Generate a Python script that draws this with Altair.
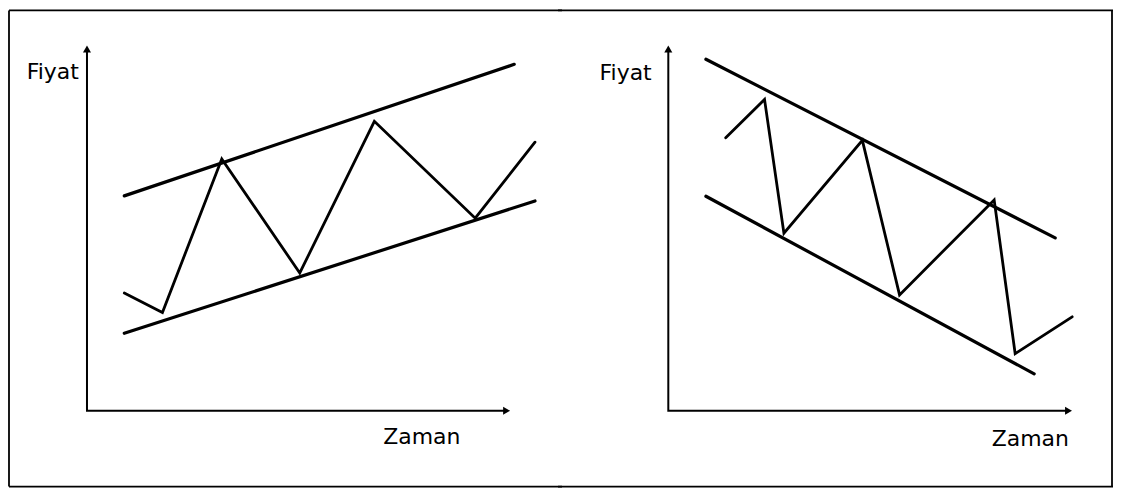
import altair as alt
import pandas as pd

# ---------------- data (time t, price p; axis origin = 0,0; axis length = 100) ----------------
# Left panel: rising channel
left_upper_t = [8.8, 100.8]
left_upper_p = [58.8, 94.8]
left_lower_t = [8.8, 105.7]
left_lower_p = [21.2, 57.4]
left_zig_t = [8.8, 17.8, 31.8, 50.2, 67.8, 91.6, 105.7]
left_zig_p = [32.2, 26.9, 68.9, 37.7, 79.2, 52.7, 73.5]

# Right panel: falling channel
right_upper_t = [9.3, 95.7]
right_upper_p = [96.2, 47.3]
right_lower_t = [9.3, 90.5]
right_lower_p = [58.7, 10.1]
right_zig_t = [14.2, 23.8, 28.6, 48.0, 57.2, 80.6, 85.8, 99.9]
right_zig_p = [74.7, 85.2, 48.6, 74.0, 31.7, 57.7, 15.6, 25.7]

# Axes (path: top of price axis -> origin -> end of time axis)
axis_t = [0, 0, 99]
axis_p = [99, 0, 0]

y_label = "Fiyat"
x_label = "Zaman"

# label anchor points (data units)
left_label_t = [-1.9, 88.1]
left_label_p = [90.7, -9.0]
right_label_t = [-4.1, 99.1]
right_label_p = [90.4, -9.6]

# ---------------- layout ----------------
H = 481
W_LEFT = 552
W_RIGHT = 554
Y_DOMAIN = [-21.3, 110.1]
X_DOMAIN_LEFT = [-18.4, 111.6]
X_DOMAIN_RIGHT = [-26.79, 110.0]
FONT = "DejaVu Sans"


def series(name, ts, ps):
    return pd.DataFrame({"name": name, "i": list(range(len(ts))), "t": ts, "p": ps})


def panel(upper, lower, zig, label_t, label_p, x_domain, width, side):
    xs = alt.Scale(domain=x_domain, nice=False, zero=False)
    ys = alt.Scale(domain=Y_DOMAIN, nice=False, zero=False)
    X = alt.X("t:Q", scale=xs, axis=None)
    Y = alt.Y("p:Q", scale=ys, axis=None)

    chan_df = pd.concat([series("upper", *upper), series("lower", *lower)])
    channels = alt.Chart(chan_df).mark_line(
        color="black", strokeWidth=3.2, strokeCap="round"
    ).encode(X, Y, detail="name:N", order="i:Q")

    zig_df = series("price", *zig)
    zigzag = alt.Chart(zig_df).mark_line(
        color="black", strokeWidth=2.8, strokeCap="round", strokeJoin="miter"
    ).encode(X, Y, order="i:Q")

    axes_df = series("axes", axis_t, axis_p)
    axes = alt.Chart(axes_df).mark_line(
        color="black", strokeWidth=2, strokeJoin="miter"
    ).encode(X, Y, order="i:Q")

    arrow_up = alt.Chart(pd.DataFrame({"t": [axis_t[0]], "p": [axis_p[0]]})).mark_point(
        shape="triangle-up", filled=True, color="black", size=65, opacity=1
    ).encode(X, Y)
    arrow_right = alt.Chart(pd.DataFrame({"t": [axis_t[2]], "p": [axis_p[2]]})).mark_point(
        shape="triangle-right", filled=True, color="black", size=65, opacity=1
    ).encode(X, Y)

    lab_df = pd.DataFrame({"t": label_t, "p": label_p, "label": [y_label, x_label]})
    labels = alt.Chart(lab_df).mark_text(
        font=FONT, fontSize=22, color="black", align="right", baseline="alphabetic"
    ).encode(X, Y, text="label:N")

    # frame pieces (overlap the panel join so the border is continuous)
    if side == "left":
        fx, hx0, hx1 = 0, 0, width + 2
    else:
        fx, hx0, hx1 = width - 1, -2, width
    frame_v = alt.Chart(pd.DataFrame({"k": [0]})).mark_rule(color="black", strokeWidth=1.8).encode(
        x=alt.value(fx), y=alt.value(2), y2=alt.value(479)
    )
    frame_top = alt.Chart(pd.DataFrame({"k": [0]})).mark_rule(color="black", strokeWidth=1.8).encode(
        x=alt.value(hx0), x2=alt.value(hx1), y=alt.value(2)
    )
    frame_bot = alt.Chart(pd.DataFrame({"k": [0]})).mark_rule(color="black", strokeWidth=1.8).encode(
        x=alt.value(hx0), x2=alt.value(hx1), y=alt.value(479)
    )

    return alt.layer(
        frame_v, frame_top, frame_bot, axes, arrow_up, arrow_right, channels, zigzag, labels
    ).properties(width=width, height=H)


left = panel(
    (left_upper_t, left_upper_p),
    (left_lower_t, left_lower_p),
    (left_zig_t, left_zig_p),
    left_label_t, left_label_p,
    X_DOMAIN_LEFT, W_LEFT, "left",
)
right = panel(
    (right_upper_t, right_upper_p),
    (right_lower_t, right_lower_p),
    (right_zig_t, right_zig_p),
    right_label_t, right_label_p,
    X_DOMAIN_RIGHT, W_RIGHT, "right",
)

chart = alt.hconcat(left, right, spacing=0, bounds="flush").properties(
    padding=0, background="white"
).configure_view(stroke=None)

chart.save("out.html", embed_options={"renderer": "svg", "actions": False})
